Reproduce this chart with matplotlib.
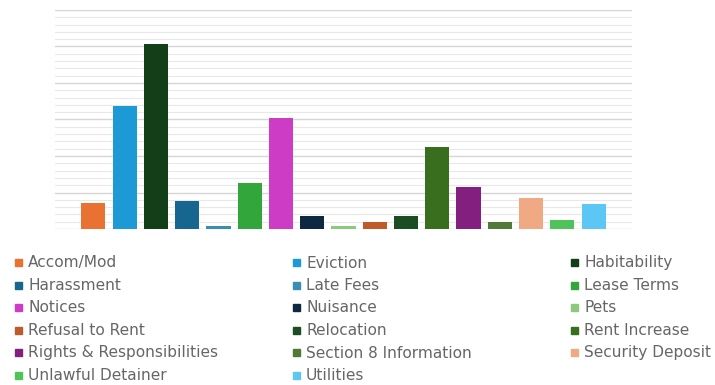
import matplotlib.pyplot as plt
from matplotlib.patches import Rectangle
from matplotlib.ticker import MultipleLocator

# complaint categories and counts
categories = [
    'Accom/Mod', 'Eviction', 'Habitability', 'Harassment', 'Late Fees',
    'Lease Terms', 'Notices', 'Nuisance', 'Pets', 'Refusal to Rent',
    'Relocation', 'Rent Increase', 'Rights & Responsibilities',
    'Section 8 Information', 'Security Deposit', 'Unlawful Detainer', 'Utilities',
]
counts = [36, 168, 253, 38, 4, 63, 152, 18, 4, 10, 18, 112, 58, 10, 42, 12, 34]
colors = [
    '#E97132', '#1C9AD6', '#123F17', '#176690', '#3A8DB5',
    '#33A63B', '#CC3CC5', '#0E2841', '#8CC97E', '#BF5B2A',
    '#1B4D24', '#3A6E1F', '#83207F', '#4F7A37', '#F1A983', '#4EC35A', '#5CC7F5',
]

fig = plt.figure(figsize=(7.15, 3.85), dpi=100)
ax = fig.add_axes([55 / 715, 156 / 385, 577 / 715, 219 / 385])

x = list(range(len(categories)))
ax.bar(x, counts, width=0.77, color=colors, zorder=3)

ax.set_xlim(-1.23, 17.23)
ax.set_ylim(0, 300)
ax.yaxis.set_major_locator(MultipleLocator(50))
ax.yaxis.set_minor_locator(MultipleLocator(10))
ax.grid(axis='y', which='major', color='#d6d6d6', linewidth=1.0, zorder=0)
ax.grid(axis='y', which='minor', color='#e8e8e8', linewidth=0.8, zorder=0)
for s in ax.spines.values():
    s.set_visible(False)
ax.tick_params(which='both', left=False, bottom=False,
               labelleft=False, labelbottom=False)

# legend laid out row by row in three columns
col_x = [15, 293, 571]
row_y0, row_dy = 263, 22.5
for i, (name, c) in enumerate(zip(categories, colors)):
    col, row = i % 3, i // 3
    px = col_x[col]
    py = row_y0 + row * row_dy
    fig.patches.append(Rectangle((px / 715, 1 - (py + 3) / 385), 7 / 715, 7 / 385,
                                 transform=fig.transFigure, color=c))
    fig.text((px + 13) / 715, 1 - py / 385, name, fontsize=11.1,
             family='DejaVu Sans', color='#666666', va='center', ha='left')

fig.savefig('out.png', dpi=100)
